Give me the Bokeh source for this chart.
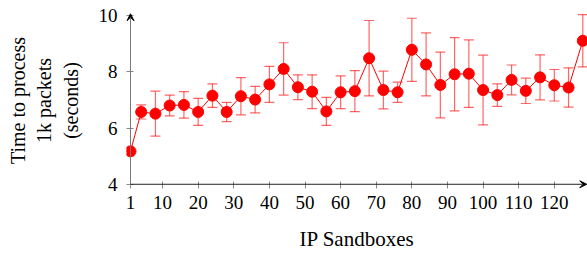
from bokeh.plotting import figure
from bokeh.models import Whisker, ColumnDataSource, FixedTicker, Arrow, VeeHead, TeeHead
from bokeh.embed import file_html
from bokeh.resources import INLINE

# data
sandboxes = [1, 4, 8, 12, 16, 20, 24, 28, 32, 36, 40, 44, 48, 52, 56, 60, 64,
             68, 72, 76, 80, 84, 88, 92, 96, 100, 104, 108, 112, 116, 120, 124, 128]
time_s = [5.17, 6.57, 6.51, 6.80, 6.82, 6.57, 7.15, 6.57, 7.13, 7.01, 7.55, 8.10,
          7.45, 7.29, 6.59, 7.27, 7.31, 8.48, 7.35, 7.27, 8.78, 8.26, 7.53, 7.91,
          7.93, 7.35, 7.17, 7.71, 7.32, 7.80, 7.52, 7.44, 9.10]
err = [0.0, 0.25, 0.80, 0.37, 0.47, 0.48, 0.42, 0.34, 0.66, 0.47, 0.64, 0.93,
       0.44, 0.60, 0.50, 0.58, 0.73, 1.34, 0.67, 0.36, 1.12, 1.12, 1.17, 1.30,
       1.20, 1.24, 0.40, 0.53, 0.45, 0.80, 0.56, 0.70, 0.93]
x_ticks = [1, 10, 20, 30, 40, 50, 60, 70, 80, 90, 100, 110, 120]
y_ticks = [4, 6, 8, 10]

FONT = "Liberation Serif"

src = ColumnDataSource(dict(
    x=sandboxes, y=time_s,
    lo=[v - e for v, e in zip(time_s, err)],
    hi=[v + e for v, e in zip(time_s, err)],
))

p = figure(width=587, height=253, output_backend="svg", toolbar_location=None,
           x_range=(-0.123, 129.32), y_range=(3.85, 10.105),
           min_border_left=126, min_border_right=0, min_border_top=12, min_border_bottom=62)
p.outline_line_color = None
p.xgrid.visible = False
p.ygrid.visible = False

w = Whisker(source=src, base="x", lower="lo", upper="hi",
            line_color="red", line_alpha=0.6, line_width=1.2, level="glyph")
w.upper_head = TeeHead(size=10, line_color="red", line_alpha=0.6, line_width=1.2)
w.lower_head = TeeHead(size=10, line_color="red", line_alpha=0.6, line_width=1.2)
p.add_layout(w)

p.line("x", "y", source=src, line_color="red", line_width=1)
p.scatter("x", "y", source=src, size=11, fill_color="red", line_color="red")

p.xaxis.ticker = FixedTicker(ticks=x_ticks)
p.yaxis.ticker = FixedTicker(ticks=y_ticks)
for ax in (p.xaxis[0], p.yaxis[0]):
    ax.axis_line_color = None
    ax.major_tick_line_color = "#888888"
    ax.major_tick_in = 7
    ax.major_tick_out = 0
    ax.minor_tick_line_color = None
    ax.major_label_text_font = FONT
    ax.major_label_text_font_size = "19px"
    ax.major_label_text_color = "black"
    ax.axis_label_text_font = FONT
    ax.axis_label_text_font_style = "normal"
    ax.axis_label_text_color = "black"

p.xaxis.major_label_standoff = 7
p.yaxis.major_label_standoff = 9
p.xaxis.axis_label = "IP Sandboxes"
p.xaxis.axis_label_text_font_size = "21px"
p.xaxis.axis_label_standoff = 15
p.yaxis.axis_label = "Time to process\n1k packets\n(seconds)"
p.yaxis.axis_label_text_font_size = "20px"
p.yaxis.axis_label_standoff = 14
p.yaxis.axis_label_text_align = "center"

p.add_layout(Arrow(x_start=1, y_start=4, x_end=129.1, y_end=4, line_color="#222222",
                   line_width=1, end=VeeHead(size=7, fill_color="black", line_color="black",
                                             line_width=1)))
p.add_layout(Arrow(x_start=1, y_start=4, x_end=1, y_end=10.06, line_color="#777777",
                   line_width=1, end=VeeHead(size=7, fill_color="black", line_color="black",
                                             line_width=1)))

open("out.html", "w").write(file_html(p, INLINE))
